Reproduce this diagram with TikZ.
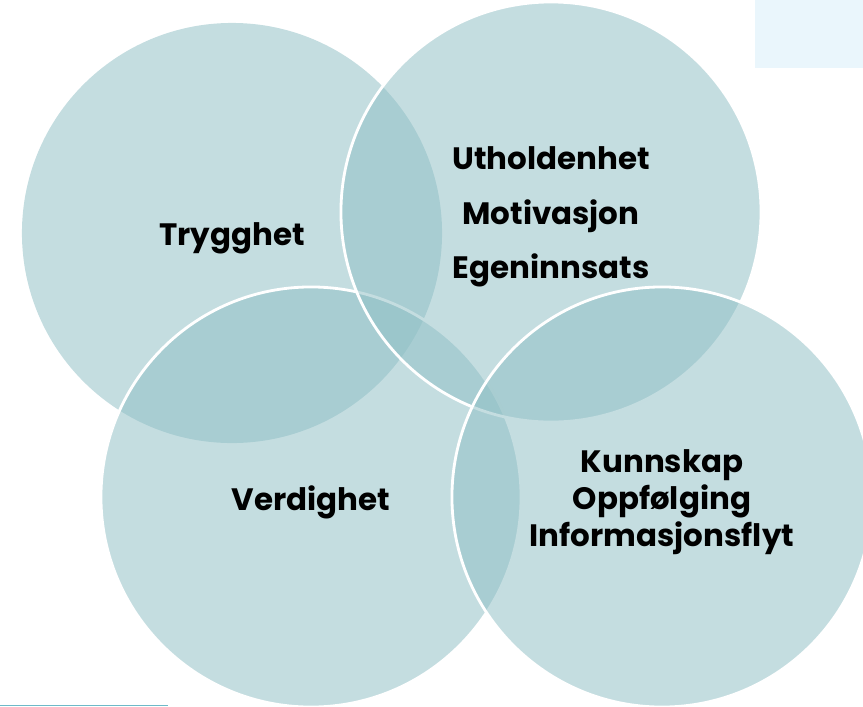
\documentclass[tikz,border=0pt]{standalone}
\usepackage{fontspec}
\setmainfont{Poppins}
\definecolor{venncol}{RGB}{144,191,197}
\definecolor{cornerbox}{RGB}{234,246,252}
\definecolor{footline}{RGB}{110,185,200}
\begin{document}
\begin{tikzpicture}[
        x=0.025cm, y=-0.025cm,
        venn/.style={circle, minimum size=10.5cm, inner sep=0pt, outer sep=0pt,
            fill=venncol, fill opacity=0.53, draw=white, line width=2pt},
        txt/.style={align=center, inner sep=0pt,
            font=\bfseries\fontsize{22}{38.5}\selectfont},
        tight/.style={font=\bfseries\fontsize{22}{26.3}\selectfont},
    ]
    \useasboundingbox (0,0) rectangle (863,706);
    \clip (0,0) rectangle (863,706);
    \fill[cornerbox] (755,0) rectangle (863,68);
    % circles
    \node[venn, draw=none](trygghet) at (232,233){};
    \node[venn](verdighet) at (311,497){};
    \node[venn](utholdenhet) at (551,212){};
    \node[venn](kunnskap) at (662,497){};
    % texts
    \node[txt](trygghet-t) at ([yshift=-3.5pt]trygghet.center){Trygghet};
    \node[txt](verdighet-t) at ([yshift=-3.5pt]verdighet.center){Verdighet};
    \node[txt](utholdenhet-t) at ([yshift=-3.5pt]utholdenhet.center){Utholdenhet\\Motivasjon\\Egeninnsats};
    \node[txt, tight](kunnskap-t) at ([yshift=-3.5pt]kunnskap.center){Kunnskap\\Oppfølging\\Informasjonsflyt};
    \draw[footline] (0,705) -- (168,705);
\end{tikzpicture}
\end{document}
